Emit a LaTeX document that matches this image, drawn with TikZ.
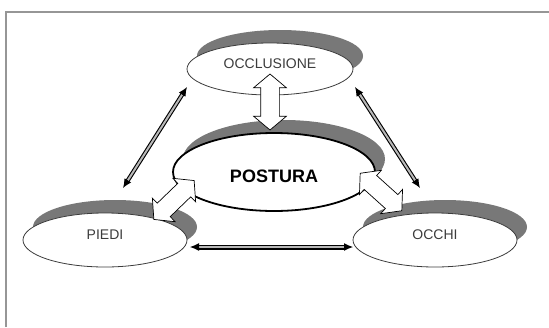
\documentclass[tikz,border=0pt]{standalone}
\usepackage{fontspec}
\setmainfont{Liberation Sans}
\usetikzlibrary{arrows.meta,shapes.geometric,shapes.arrows,shadows}
\definecolor{shadowgray}{RGB}{120,120,120}
\definecolor{labelgray}{RGB}{60,60,60}
\definecolor{framegray}{RGB}{150,150,150}
\tikzset{
  topic/.style={ellipse,draw=labelgray,fill=white,line width=0.8pt,
    text=labelgray,font=\fontsize{14}{14}\selectfont,
    minimum width=164pt,minimum height=54pt,text height=8pt,text depth=10pt,
    general shadow={fill=shadowgray,shadow xshift=10pt,shadow yshift=13pt}},
  link/.style={line width=1.1pt,double=gray!55,double distance=2pt,
    {Latex[length=9pt,width=8pt]}-{Latex[length=9pt,width=8pt]}},
  blockarrow/.style={double arrow,draw=black,fill=white,line width=0.7pt,
    double arrow head extend=7pt,double arrow tip angle=100,
    inner xsep=0pt,inner ysep=9pt,minimum height=56pt}
}
\begin{document}
\begin{tikzpicture}[x=1pt,y=-1pt]
\useasboundingbox (0,0) rectangle (549,327);
\draw[framegray,line width=2.5pt] (6,327) -- (6,12) -- (549,12);

\node[topic,minimum width=166pt,minimum height=52pt] (occl) at (270,69) {OCCLUSIONE};
\node[topic] (piedi) at (105,240) {PIEDI};
\node[topic] (occhi) at (435,240) {OCCHI};
\node[topic,draw=black,line width=1.8pt,text=black,font=\fontsize{18}{18}\bfseries,
  minimum width=202pt,minimum height=78pt,text height=20pt,text depth=0pt,
  general shadow={fill=shadowgray,shadow xshift=9pt,shadow yshift=11pt}] (post) at (274,172) {POSTURA};

\coordinate (occl-l) at (187,87);
\coordinate (piedi-t) at (123,188);
\coordinate (occl-r) at (355,87);
\coordinate (occhi-t) at (420,188);
\coordinate (piedi-r) at (190,247);
\coordinate (occhi-l) at (353,247);
\draw[link] (occl-l) -- (piedi-t);
\draw[link] (occl-r) -- (occhi-t);
\draw[link,double distance=2.8pt] (piedi-r) -- (occhi-l);

\node[blockarrow,rotate=90] (occl-post) at (270,102) {};
\node[blockarrow,rotate=44] (piedi-post) at (174,200) {};
\node[blockarrow,rotate=-42] (occhi-post) at (381,192) {};
\end{tikzpicture}
\end{document}
